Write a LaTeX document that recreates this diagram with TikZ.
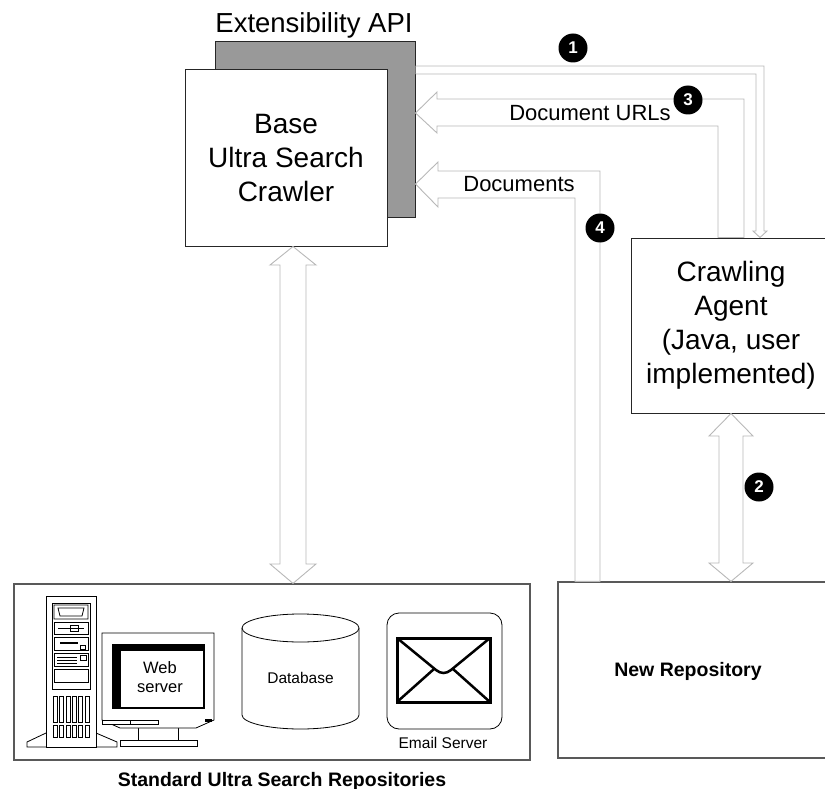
\documentclass[tikz,border=0pt]{standalone}
\usepackage{fontspec}
\setmainfont{Liberation Sans}
\tikzset{
	box/.style={draw=black!85,line width=1pt,fill=white,inner sep=0},
	repo/.style={draw=black!65,line width=1.2pt,fill=white,inner sep=0},
	hollow/.style={draw=black!28,line width=.9pt,fill=white,line join=miter},
	badge/.style={circle,fill=black,text=white,inner sep=0,minimum size=29pt,font=\fontsize{17}{17}\selectfont\bfseries},
	bigtext/.style={align=center,font=\fontsize{28}{34}\selectfont},
	lbl/.style={inner sep=0,font=\fontsize{22}{22}\selectfont},
	small/.style={inner sep=0,align=center,font=\fontsize{15.5}{19}\selectfont},
	repolabel/.style={inner sep=0,font=\fontsize{19.5}{19.5}\selectfont\bfseries},
	icon/.style={draw=black,line width=.8pt,fill=white}
}
\begin{document}
\begin{tikzpicture}[x=1pt,y=-1pt]
\useasboundingbox (0,0) rectangle (825,789);
\node[box,fill=black!40,minimum width=200pt,minimum height=175pt] (api) at (315,129.5) {};
\node[inner sep=0,font=\fontsize{27.5}{27.5}\selectfont] (apilabel) at (314,25) {Extensibility API};
\node[box,bigtext,minimum width=202pt,minimum height=176pt] (crawler) at (286,158) {Base\\Ultra Search\\Crawler};
\node[box,bigtext,minimum width=200pt,minimum height=175pt] (agent) at (731,325.5) {Crawling\\Agent\\(Java, user\\implemented)};
\node[repo,minimum width=516pt,minimum height=176pt] (stdrepo) at (272,672) {};
\node[repolabel] (stdlabel) at (282,781) {Standard Ultra Search Repositories};
\node[repo,minimum width=280pt,minimum height=176pt] (newrepo) at (698,670) {};
\node[repolabel] (newlabel) at (688,671) {New Repository};
\draw[hollow] (api.east |- 0,66) -- (764,66) -- (764,231) -- (767,231) -- (760,0 |- agent.north) -- (753,231) -- (756,231) -- (756,74) -- (api.east |- 0,74);
\draw[hollow] (api.east |- 0,113) -- (437,92) -- (437,99) -- (744,99) -- (744,0 |- agent.north) -- (718,0 |- agent.north) -- (718,126) -- (437,126) -- (437,133) -- cycle;
\draw[hollow] (api.east |- 0,184) -- (438,162) -- (438,171) -- (600,171) -- (600,0 |- newrepo.north) -- (575,0 |- newrepo.north) -- (575,198) -- (438,198) -- (438,207) -- cycle;
\draw[hollow] (293,0 |- crawler.south) -- (316,265) -- (306,265) -- (306,564) -- (316,564) -- (293,0 |- stdrepo.north) -- (270,564) -- (280,564) -- (280,265) -- (270,265) -- cycle;
\draw[hollow] (agent.south) -- (753,436) -- (743,436) -- (743,563) -- (753,563) -- (731,0 |- newrepo.north) -- (709,563) -- (719,563) -- (719,436) -- (709,436) -- cycle;
\node[lbl] (urls) at (590,113) {Document URLs};
\node[lbl] (docs) at (519,184) {Documents};
\node[badge] (b1) at (573,48) {1};
\node[badge] (b2) at (759,487) {2};
\node[badge] (b3) at (688,100) {3};
\node[badge] (b4) at (600,228) {4};
\draw[icon] (46,733) -- (27,742) -- (27,747) -- (117,747) -- (117,742) -- (96,733);
\draw[icon] (46,596) rectangle (96,747);
\draw[icon] (52,603) rectangle (90,689);
\draw[icon] (54,605) rectangle (88,619) (58,608) -- (84,608) -- (82,616) -- (60,616) -- cycle;
\draw[icon] (54,622) rectangle (88,634) (58,628) -- (84,628) (70,625) rectangle (78,631);
\draw[icon] (54,637) rectangle (88,650) (80,645) rectangle (85,649);
\draw[line width=2.2pt] (60,643) -- (78,643);
\draw[icon] (54,653) rectangle (88,666) (80,655) rectangle (86,660);
\foreach \y in {657,660,663} \draw[line width=.5pt] (57,\y) -- (77,\y);
\draw[icon] (54,669) rectangle (88,682);
\foreach \i in {0,...,5} {
	\draw[icon,line width=.6pt] (53+\i*6.4,696) rectangle ++(4,26);
	\draw[icon,line width=.6pt] (53+\i*6.4,725) rectangle ++(4,12);
}
\draw[icon] (138,726) rectangle (178,740);
\draw[icon] (120,740) rectangle (197,746);
\draw[icon] (102,633) -- (214,633) -- (214,720) -- (196,728) -- (120,728) -- (102,720) -- cycle;
\fill (112,644) rectangle (205,709);
\draw[icon] (120,650) rectangle (203,707);
\draw[icon,line width=.5pt] (102,720) rectangle (158,724) (130,720) -- (130,724);
\fill (205,719) rectangle (212,721.5);
\node[small,font=\fontsize{16.5}{19}\selectfont] (web) at (160,677) {Web\\server};
\draw[icon] (242,628) -- (242,715) arc[start angle=180,end angle=360,x radius=58.5pt,y radius=14pt] -- (359,628);
\draw[icon] (300.5,628) ellipse [x radius=58.5pt,y radius=14pt];
\node[small] (db) at (300.5,678) {Database};
\draw[icon,rounded corners=12pt] (387,613) rectangle (502,729);
\draw[line width=3pt] (397,638) rectangle (490,702);
\draw[line width=2.5pt] (397,638) -- (436,670) .. controls (441,674) and (446,674) .. (451,670) -- (490,638);
\draw[line width=2.5pt] (397,702) -- (434,669) (490,702) -- (453,669);
\node[small] (mail) at (443,743) {Email Server};
\end{tikzpicture}
\end{document}
